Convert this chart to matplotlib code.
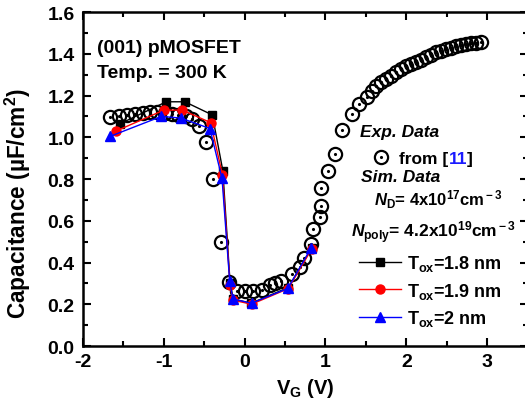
import matplotlib
matplotlib.use("Agg")
import matplotlib.pyplot as plt
import matplotlib.ticker as ticker
from matplotlib.lines import Line2D

# measured C-V curve, (001) pMOSFET at 300 K
exp_vg = [-1.67, -1.55, -1.45, -1.36, -1.26, -1.17, -1.08, -0.99, -0.90, -0.82,
          -0.73, -0.65, -0.57, -0.48, -0.39, -0.29, -0.19, -0.09, 0.00, 0.10,
          0.21, 0.31, 0.38, 0.45, 0.58, 0.68, 0.74, 0.82, 0.85, 0.93, 0.94,
          0.95, 1.03, 1.12, 1.21, 1.33, 1.42, 1.51, 1.57, 1.63, 1.69, 1.75,
          1.81, 1.87, 1.93, 2.00, 2.06, 2.12, 2.18, 2.24, 2.30, 2.37, 2.43,
          2.49, 2.55, 2.61, 2.68, 2.74, 2.80, 2.86, 2.93]
exp_c = [1.095, 1.100, 1.105, 1.112, 1.118, 1.120, 1.120, 1.117, 1.112, 1.108,
         1.100, 1.087, 1.056, 0.976, 0.800, 0.500, 0.305, 0.265, 0.262, 0.262,
         0.270, 0.290, 0.300, 0.312, 0.345, 0.380, 0.420, 0.490, 0.560, 0.617,
         0.670, 0.755, 0.840, 0.920, 1.036, 1.110, 1.160, 1.191, 1.223, 1.247,
         1.263, 1.279, 1.295, 1.311, 1.327, 1.340, 1.351, 1.360, 1.370, 1.383,
         1.395, 1.407, 1.415, 1.423, 1.430, 1.438, 1.440, 1.446, 1.450, 1.450,
         1.455]

# simulated curves for three oxide thicknesses
sim18_vg = [-1.54, -0.97, -0.74, -0.40, -0.27, -0.18, -0.14, 0.08, 0.54, 0.83]
sim18_c = [1.065, 1.170, 1.170, 1.107, 0.840, 0.300, 0.225, 0.205, 0.280, 0.470]
sim19_vg = [-1.59, -1.00, -0.77, -0.42, -0.275, -0.18, -0.145, 0.085, 0.54, 0.83]
sim19_c = [1.030, 1.130, 1.130, 1.070, 0.820, 0.290, 0.220, 0.200, 0.275, 0.465]
sim20_vg = [-1.66, -1.03, -0.79, -0.43, -0.28, -0.185, -0.145, 0.085, 0.535, 0.82]
sim20_c = [1.005, 1.100, 1.092, 1.042, 0.803, 0.310, 0.225, 0.205, 0.276, 0.468]

plt.rcParams["font.family"] = ["Liberation Sans", "DejaVu Sans"]
plt.rcParams["font.weight"] = "bold"
plt.rcParams["axes.labelweight"] = "bold"
plt.rcParams["axes.unicode_minus"] = False
plt.rcParams["font.size"] = 12.5
plt.rcParams["mathtext.fontset"] = "custom"
plt.rcParams["mathtext.rm"] = "Liberation Sans:bold"
plt.rcParams["mathtext.bf"] = "Liberation Sans:bold"
plt.rcParams["mathtext.it"] = "Liberation Sans:bold:italic"

fig = plt.figure(figsize=(5.25, 4.02), dpi=100)
ax = fig.add_axes([0.1581, 0.1368, 0.8467, 0.8308])

ax.plot(exp_vg, exp_c, "o", ms=9.5, mfc="none", mec="black", mew=1.6, zorder=2)
ax.plot(exp_vg, exp_c, ".", ms=2.5, color="black", zorder=2)

l18, = ax.plot(sim18_vg, sim18_c, "-s", color="black", lw=1.0, ms=6, zorder=3)
l19, = ax.plot(sim19_vg, sim19_c, "-o", color="red", lw=1.0, ms=6.5, zorder=4)
l20, = ax.plot(sim20_vg, sim20_c, "-^", color="blue", lw=1.0, ms=7, zorder=5)

ax.set_xlim(-2, 3.5)
ax.set_ylim(0, 1.6)
ax.xaxis.set_major_locator(ticker.MultipleLocator(1))
ax.xaxis.set_minor_locator(ticker.MultipleLocator(0.5))
ax.yaxis.set_major_locator(ticker.MultipleLocator(0.2))
ax.yaxis.set_minor_locator(ticker.MultipleLocator(0.1))
ax.yaxis.set_major_formatter(ticker.FormatStrFormatter("%.1f"))
ax.tick_params(which="both", direction="in", top=True, right=True, width=1.5)
ax.tick_params(which="major", length=6, labelsize=14)
ax.tick_params(axis="x", which="major", pad=5)
ax.tick_params(axis="y", which="major", pad=6)
ax.tick_params(which="minor", length=3.5)
for s in ax.spines.values():
    s.set_linewidth(1.8)

ax.set_xlabel(r"V$_{\rm G}$ (V)", fontsize=14.5, labelpad=4)
ax.set_ylabel("Capacitance (\u00b5F/cm$^{\\rm 2}$)", fontsize=16.3)
ax.yaxis.set_label_coords(-0.112, 0.43)

ax.text(-1.83, 1.408, "(001) pMOSFET", fontsize=14, va="baseline")
ax.text(-1.83, 1.289, "Temp. = 300 K", fontsize=14, va="baseline")

ax.text(1.43, 1.007, "Exp. Data", fontsize=12.5, style="italic", va="baseline")
ax.text(1.44, 0.792, "Sim. Data", fontsize=12.5, style="italic", va="baseline")
ax.text(3.20, 0.675, r"$N_{\rm D}$= 4x10$^{\rm 17}$cm$^{\rm -3}$",
        fontsize=12, ha="right", va="baseline")
ax.text(1.32, 0.522, r"$N_{\rm poly}$= 4.2x10$^{\rm 19}$cm$^{\rm -3}$",
        fontsize=12.5, va="baseline")

# reference entry for the measured data, with the citation number in blue
exp_handle = (Line2D([], [], ls="none", marker="o", ms=9.5, mfc="none",
                     mec="black", mew=1.6),
              Line2D([], [], ls="none", marker=".", ms=2.5, color="black"))
leg_exp = ax.legend([exp_handle], ["from ["], loc="lower left",
                    bbox_to_anchor=(1.56, 0.86), bbox_transform=ax.transData,
                    frameon=False, handlelength=1.2, handletextpad=0.45,
                    borderpad=0, borderaxespad=0, fontsize=12.5)
ax.add_artist(leg_exp)
t_from = leg_exp.get_texts()[0]
t_num = ax.annotate("11", xy=(1, 0), xycoords=t_from, va="bottom",
                    color="#1a1aff", fontsize=12.5, zorder=7)
ax.annotate("]", xy=(1, 0), xycoords=t_num, va="bottom", fontsize=12.5,
            zorder=8)

ax.legend([l18, l19, l20],
          [r"T$_{\rm ox}$=1.8 nm", r"T$_{\rm ox}$=1.9 nm", r"T$_{\rm ox}$=2 nm"],
          loc="upper left", bbox_to_anchor=(1.42, 0.445),
          bbox_transform=ax.transData, frameon=False, handlelength=2.3,
          handletextpad=0.35, labelspacing=0.42, borderpad=0, borderaxespad=0,
          fontsize=13)

fig.savefig("out.png", dpi=100)
